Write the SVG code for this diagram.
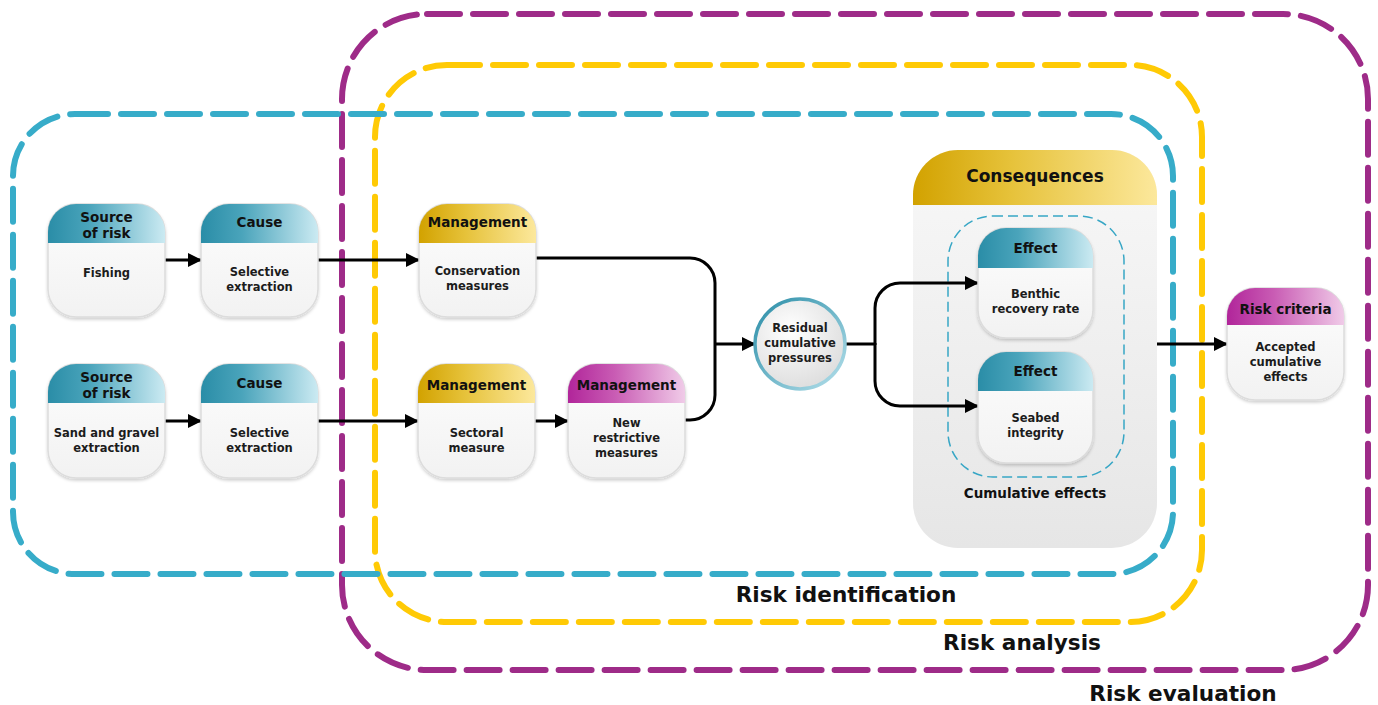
<svg xmlns="http://www.w3.org/2000/svg" width="1378" height="705" viewBox="0 0 1378 705">
<defs>
<linearGradient id="gTeal" x1="0" y1="0" x2="1" y2="0"><stop offset="0" stop-color="#2a8da7"/><stop offset="0.35" stop-color="#4aa4bb"/><stop offset="1" stop-color="#cbeaf2"/></linearGradient>
<linearGradient id="gGold" x1="0" y1="0" x2="1" y2="0"><stop offset="0" stop-color="#d2a200"/><stop offset="0.4" stop-color="#e6c23a"/><stop offset="1" stop-color="#fce89c"/></linearGradient>
<linearGradient id="gMag" x1="0" y1="0" x2="1" y2="0"><stop offset="0" stop-color="#b1259a"/><stop offset="0.4" stop-color="#c95cb4"/><stop offset="1" stop-color="#f0cbe8"/></linearGradient>
<linearGradient id="gBody" x1="0" y1="0" x2="0" y2="1"><stop offset="0" stop-color="#fdfdfd"/><stop offset="1" stop-color="#f2f2f2"/></linearGradient>
<linearGradient id="gCons" x1="0" y1="0" x2="0" y2="1"><stop offset="0" stop-color="#f8f8f8"/><stop offset="1" stop-color="#e6e6e6"/></linearGradient>
<radialGradient id="gCirc" cx="0.4" cy="0.35" r="0.7"><stop offset="0" stop-color="#ffffff"/><stop offset="1" stop-color="#dcdcdc"/></radialGradient>
<linearGradient id="gCircS" x1="0" y1="0" x2="1" y2="1"><stop offset="0" stop-color="#2a8da7"/><stop offset="1" stop-color="#b5e0eb"/></linearGradient>
<filter id="sh" x="-10%" y="-10%" width="120%" height="125%"><feDropShadow dx="0" dy="2" stdDeviation="1.5" flood-color="#000" flood-opacity="0.18"/></filter>
<marker id="arr" viewBox="0 0 14 14" refX="13" refY="7" markerWidth="14" markerHeight="14" markerUnits="userSpaceOnUse" orient="auto"><path d="M0,0 L14,7 L0,14 Z" fill="#000"/></marker>
<style>
.t{font-family:"DejaVu Sans",Verdana,sans-serif;font-weight:bold;text-anchor:middle;fill:#111}
.h{font-size:13.5px}
.b{font-size:11.5px;fill:#1c1c1c}
.body{fill:url(#gBody);stroke:#dcdcdc;stroke-width:1.5;filter:url(#sh)}
.dash{fill:none;stroke-width:6;stroke-linecap:round;stroke-dasharray:33 13}
.c{fill:none;stroke:#000;stroke-width:3}
.lab{font-size:21.6px}
</style>
</defs>
<rect width="1378" height="705" fill="#fff"/>

<g id="frames">
<rect id="risk-evaluation-frame" class="dash" x="342" y="14" width="1026" height="656" rx="85" stroke="#9e2b88"/>
<rect id="risk-analysis-frame" class="dash" x="375" y="65" width="827" height="557" rx="72" stroke="#ffca05"/>
<rect id="risk-identification-frame" class="dash" x="13" y="114" width="1160" height="460" rx="62" stroke="#37acc9"/>
<text class="t lab" x="846" y="602">Risk identification</text>
<text class="t lab" x="1022" y="650">Risk analysis</text>
<text class="t lab" x="1183" y="701">Risk evaluation</text>
</g>

<g id="consequences">
<rect x="913" y="150" width="244" height="398" rx="45" fill="url(#gCons)"/>
<path d="M913,205 V195 A45 45 0 0 1 958,150 H1112 A45 45 0 0 1 1157,195 V205 Z" fill="url(#gGold)"/>
<text class="t" x="1035" y="182" font-size="17">Consequences</text>
<rect x="948" y="216" width="176" height="261" rx="45" fill="none" stroke="#37a6c5" stroke-width="1.5" stroke-dasharray="10 5"/>
<text class="t" x="1035" y="498" font-size="13.5">Cumulative effects</text>
</g>

<g id="connectors">
<path class="c" d="M165,260 H201" marker-end="url(#arr)"/>
<path class="c" d="M318,260 H419" marker-end="url(#arr)"/>
<path class="c" d="M165,421 H201" marker-end="url(#arr)"/>
<path class="c" d="M318,421 H418" marker-end="url(#arr)"/>
<path class="c" d="M535,421 H568" marker-end="url(#arr)"/>
<path class="c" d="M536,258 H690 A25 25 0 0 1 715,283 V395 A25 25 0 0 1 690,420 H685"/>
<path class="c" d="M715,344 H755" marker-end="url(#arr)"/>
<path class="c" d="M845,344 H875"/>
<path class="c" d="M875,345 V308 A25 25 0 0 1 900,283 H978" marker-end="url(#arr)"/>
<path class="c" d="M875,343 V381 A25 25 0 0 0 900,406 H978" marker-end="url(#arr)"/>
<path class="c" d="M1157,344 H1227" marker-end="url(#arr)"/>
</g>

<g id="source1">
<rect class="body" x="48" y="204" width="117" height="113" rx="28"/>
<path d="M48,243 V232 A28 28 0 0 1 76,204 H137 A28 28 0 0 1 165,232 V243 Z" fill="url(#gTeal)"/>
<text class="t h" x="106.5" y="222">Source</text>
<text class="t h" x="106.5" y="238">of risk</text>
<text class="t b" x="106.5" y="277">Fishing</text>
</g>
<g id="cause1">
<rect class="body" x="201" y="204" width="117" height="113" rx="28"/>
<path d="M201,243 V232 A28 28 0 0 1 229,204 H290 A28 28 0 0 1 318,232 V243 Z" fill="url(#gTeal)"/>
<text class="t h" x="259.5" y="227">Cause</text>
<text class="t b" x="259.5" y="276">Selective</text>
<text class="t b" x="259.5" y="291">extraction</text>
</g>
<g id="management1">
<rect class="body" x="419" y="204" width="117" height="113" rx="28"/>
<path d="M419,243 V232 A28 28 0 0 1 447,204 H508 A28 28 0 0 1 536,232 V243 Z" fill="url(#gGold)"/>
<text class="t h" x="477.5" y="227">Management</text>
<text class="t b" x="477.5" y="275">Conservation</text>
<text class="t b" x="477.5" y="290">measures</text>
</g>
<g id="source2">
<rect class="body" x="48" y="364" width="117" height="114" rx="28"/>
<path d="M48,403 V392 A28 28 0 0 1 76,364 H137 A28 28 0 0 1 165,392 V403 Z" fill="url(#gTeal)"/>
<text class="t h" x="106.5" y="382">Source</text>
<text class="t h" x="106.5" y="398">of risk</text>
<text class="t b" x="106.5" y="437">Sand and gravel</text>
<text class="t b" x="106.5" y="452">extraction</text>
</g>
<g id="cause2">
<rect class="body" x="201" y="364" width="117" height="114" rx="28"/>
<path d="M201,403 V392 A28 28 0 0 1 229,364 H290 A28 28 0 0 1 318,392 V403 Z" fill="url(#gTeal)"/>
<text class="t h" x="259.5" y="388">Cause</text>
<text class="t b" x="259.5" y="437">Selective</text>
<text class="t b" x="259.5" y="452">extraction</text>
</g>
<g id="management2">
<rect class="body" x="418" y="364" width="117" height="114" rx="28"/>
<path d="M418,403 V392 A28 28 0 0 1 446,364 H507 A28 28 0 0 1 535,392 V403 Z" fill="url(#gGold)"/>
<text class="t h" x="476.5" y="390">Management</text>
<text class="t b" x="476.5" y="437">Sectoral</text>
<text class="t b" x="476.5" y="452">measure</text>
</g>
<g id="management3">
<rect class="body" x="568" y="364" width="117" height="114" rx="28"/>
<path d="M568,403 V392 A28 28 0 0 1 596,364 H657 A28 28 0 0 1 685,392 V403 Z" fill="url(#gMag)"/>
<text class="t h" x="626.5" y="390">Management</text>
<text class="t b" x="626.5" y="427">New</text>
<text class="t b" x="626.5" y="442">restrictive</text>
<text class="t b" x="626.5" y="457">measures</text>
</g>
<g id="residual">
<circle cx="800" cy="344" r="45" fill="url(#gCirc)" stroke="url(#gCircS)" stroke-width="3.5"/>
<text class="t b" x="800" y="332">Residual</text>
<text class="t b" x="800" y="347">cumulative</text>
<text class="t b" x="800" y="362">pressures</text>
</g>
<g id="effect1">
<rect class="body" x="978" y="228" width="115" height="110" rx="28"/>
<path d="M978,268 V256 A28 28 0 0 1 1006,228 H1065 A28 28 0 0 1 1093,256 V268 Z" fill="url(#gTeal)"/>
<text class="t h" x="1035.5" y="253">Effect</text>
<text class="t b" x="1035.5" y="298">Benthic</text>
<text class="t b" x="1035.5" y="313">recovery rate</text>
</g>
<g id="effect2">
<rect class="body" x="978" y="352" width="115" height="111" rx="28"/>
<path d="M978,391 V380 A28 28 0 0 1 1006,352 H1065 A28 28 0 0 1 1093,380 V391 Z" fill="url(#gTeal)"/>
<text class="t h" x="1035.5" y="376">Effect</text>
<text class="t b" x="1035.5" y="422">Seabed</text>
<text class="t b" x="1035.5" y="437">integrity</text>
</g>
<g id="riskcriteria">
<rect class="body" x="1227" y="288" width="117" height="112" rx="28"/>
<path d="M1227,325 V316 A28 28 0 0 1 1255,288 H1316 A28 28 0 0 1 1344,316 V325 Z" fill="url(#gMag)"/>
<text class="t h" x="1285.5" y="314">Risk criteria</text>
<text class="t b" x="1285.5" y="351">Accepted</text>
<text class="t b" x="1285.5" y="366">cumulative</text>
<text class="t b" x="1285.5" y="381">effects</text>
</g>
</svg>
